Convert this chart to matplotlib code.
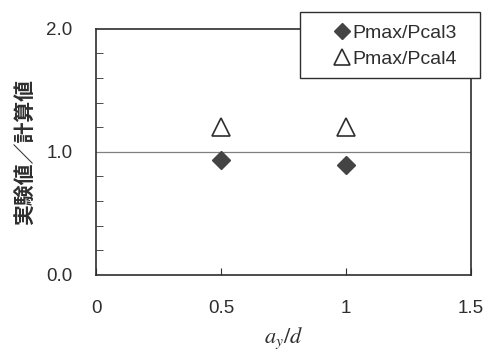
import matplotlib
matplotlib.use('Agg')
import matplotlib.pyplot as plt
from matplotlib.patches import Rectangle
from matplotlib.ticker import MultipleLocator

plt.rcParams['font.family'] = ['Liberation Sans', 'Noto Sans CJK JP', 'DejaVu Sans']
plt.rcParams['mathtext.fontset'] = 'stix'

x_vals = [0.5, 1.0]
pcal3 = [0.935, 0.89]
pcal4 = [1.20, 1.20]

INK = '#2e2e2e'

fig = plt.figure(figsize=[4.85, 3.52], dpi=100)
ax = fig.add_axes([0.198, 0.219, 0.773, 0.699])

ax.axhline(1.0, color='#808080', lw=0.9, zorder=1)
h3, = ax.plot(x_vals, pcal3, ls='none', marker='D', ms=9.5, color='#444444',
              mec='#444444', label='Pmax/Pcal3', zorder=3)
h4, = ax.plot(x_vals, pcal4, ls='none', marker='^', ms=13, mfc='white',
              mec=INK, mew=1.2, label='Pmax/Pcal4', zorder=3)

ax.set_xlim(0, 1.5)
ax.set_ylim(0, 2.0)
ax.set_xticks([0, 0.5, 1.0, 1.5])
ax.set_xticklabels(['0', '0.5', '1', '1.5'])
ax.set_yticks([0, 1.0, 2.0])
ax.set_yticklabels(['0.0', '1.0', '2.0'])
ax.yaxis.set_minor_locator(MultipleLocator(0.2))
ax.tick_params(axis='both', which='both', direction='in', colors=INK,
               labelsize=13.5, top=False, right=False)
ax.tick_params(axis='x', which='major', length=5, pad=18)
ax.tick_params(axis='y', which='major', length=0, pad=17)
ax.tick_params(axis='y', which='minor', length=5)
for sp in ax.spines.values():
    sp.set_color(INK)
    sp.set_linewidth(1.2)

ax.set_ylabel('実験値／計算値', fontsize=15, fontweight='bold', color=INK,
              family=['Noto Sans CJK JP', 'DejaVu Sans'], labelpad=8)
ax.set_xlabel('$a_y/d$', fontsize=16, color=INK, labelpad=6)

# legend box
fig.patches.append(Rectangle((300 / 485, 1 - 78 / 352), 180 / 485, 66 / 352,
                             transform=fig.transFigure, facecolor='white',
                             edgecolor=INK, lw=1.0, zorder=4))
leg = fig.legend(handles=[h3, h4], loc='center',
                 bbox_to_anchor=(396 / 485, 1 - 46 / 352), fontsize=14,
                 frameon=False, handlelength=0.7, handletextpad=0.2,
                 borderpad=0.0, labelspacing=0.45, markerscale=0.85)
leg.set_zorder(5)
for t in leg.get_texts():
    t.set_color(INK)

fig.savefig('out.png', dpi=100)
